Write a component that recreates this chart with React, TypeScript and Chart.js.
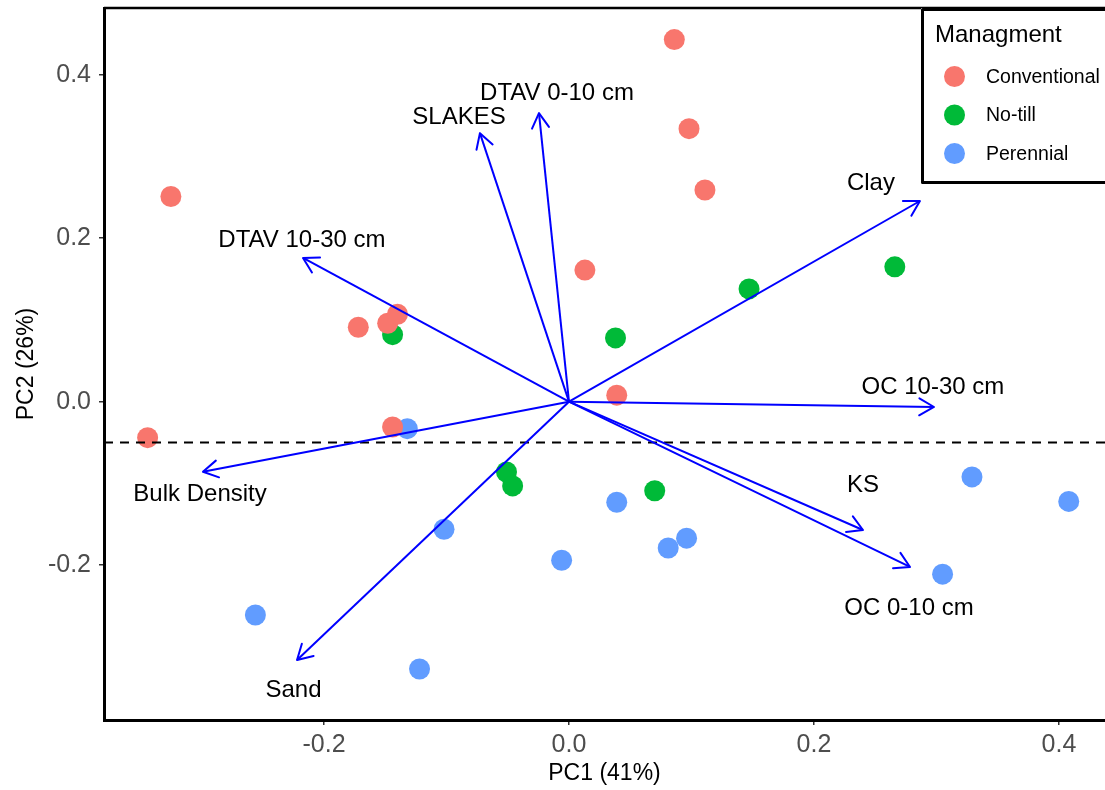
import React, { useEffect, useRef } from "react";
import { Chart, registerables } from "chart.js";

Chart.register(...registerables);

// ---------- data ----------
const groupNames = ["Conventional", "No-till", "Perennial"];
const groupColors = ["#F8766D", "#00BA38", "#619CFF"];

const conventionalPC1 = [0.086, 0.098, 0.111, 0.013, -0.325, -0.172, -0.148, -0.140, 0.039, -0.344, -0.144];
const conventionalPC2 = [0.443, 0.334, 0.259, 0.161, 0.251, 0.091, 0.096, 0.107, 0.008, -0.044, -0.031];

const noTillPC1 = [0.147, 0.266, 0.038, -0.144, -0.051, -0.046, 0.070];
const noTillPC2 = [0.138, 0.165, 0.078, 0.082, -0.086, -0.103, -0.109];

const perennialPC1 = [-0.132, -0.102, -0.006, 0.039, 0.081, 0.096, 0.305, 0.329, 0.408, -0.256, -0.122];
const perennialPC2 = [-0.033, -0.156, -0.194, -0.123, -0.179, -0.167, -0.211, -0.092, -0.122, -0.261, -0.327];

const loadingNames = ["SLAKES", "DTAV 0-10 cm", "DTAV 10-30 cm", "Clay", "OC 10-30 cm", "KS", "OC 0-10 cm", "Bulk Density", "Sand"];
const loadingPC1 = [-0.0727, -0.0245, -0.2171, 0.2865, 0.298, 0.24, 0.2784, -0.2988, -0.222];
const loadingPC2 = [0.3285, 0.353, 0.1758, 0.2455, -0.0065, -0.157, -0.2022, -0.0857, -0.316];
const labelPC1 = [-0.0898, -0.0098, -0.218, 0.2465, 0.2971, 0.24, 0.2776, -0.3012, -0.2249];
const labelPC2 = [0.348, 0.3777, 0.1978, 0.2675, 0.018, -0.102, -0.2524, -0.1129, -0.3527];

const xTicks = [-0.2, 0, 0.2, 0.4];
const yTicks = [-0.2, 0, 0.2, 0.4];
const xRange = [-0.3796, 0.4376];
const yRange = [-0.3894, 0.4816];
const refLineY = -0.05;

const xTitle = "PC1 (41%)";
const yTitle = "PC2 (26%)";
const legendTitle = "Managment";

// ---------- styles ----------
const FONT = "'Liberation Sans', Arial, Helvetica, sans-serif";
const ARROW_COLOR = "#0000FF";

const biplotPlugin = {
  id: "biplotDecor",
  afterDatasetsDraw(chart: any) {
    const { ctx, chartArea: ca, scales } = chart;
    const xs = scales.x;
    const ys = scales.y;
    ctx.save();

    // arrow heads
    ctx.strokeStyle = ARROW_COLOR;
    ctx.lineWidth = 2;
    ctx.lineCap = "round";
    ctx.lineJoin = "round";
    const x0 = xs.getPixelForValue(0);
    const y0 = ys.getPixelForValue(0);
    for (let i = 0; i < loadingNames.length; i++) {
      const x1 = xs.getPixelForValue(loadingPC1[i]);
      const y1 = ys.getPixelForValue(loadingPC2[i]);
      const ang = Math.atan2(y1 - y0, x1 - x0);
      const len = 17;
      const spread = Math.PI / 6;
      ctx.beginPath();
      ctx.moveTo(x1 + len * Math.cos(ang + Math.PI - spread), y1 + len * Math.sin(ang + Math.PI - spread));
      ctx.lineTo(x1, y1);
      ctx.lineTo(x1 + len * Math.cos(ang + Math.PI + spread), y1 + len * Math.sin(ang + Math.PI + spread));
      ctx.stroke();
    }

    // loading labels
    ctx.fillStyle = "#000";
    ctx.font = `24px ${FONT}`;
    ctx.textAlign = "center";
    ctx.textBaseline = "middle";
    for (let i = 0; i < loadingNames.length; i++) {
      ctx.fillText(loadingNames[i], xs.getPixelForValue(labelPC1[i]), ys.getPixelForValue(labelPC2[i]));
    }

    // top border of the panel
    ctx.strokeStyle = "#000";
    ctx.lineWidth = 2.5;
    ctx.lineCap = "butt";
    ctx.beginPath();
    ctx.moveTo(ca.left, ca.top);
    ctx.lineTo(ca.right + 5, ca.top);
    ctx.stroke();

    // legend
    const boxLeft = ca.right - 184;
    const boxTop = ca.top;
    const boxH = 176;
    ctx.fillStyle = "#fff";
    ctx.fillRect(boxLeft, boxTop, 260, boxH);
    ctx.strokeStyle = "#000";
    ctx.lineWidth = 3;
    ctx.strokeRect(boxLeft + 1.5, boxTop + 1.5, 260, boxH - 3);

    ctx.fillStyle = "#000";
    ctx.textAlign = "left";
    ctx.textBaseline = "alphabetic";
    ctx.font = `24px ${FONT}`;
    ctx.fillText(legendTitle, boxLeft + 14, boxTop + 34);

    ctx.font = `19.5px ${FONT}`;
    ctx.textBaseline = "middle";
    for (let i = 0; i < groupNames.length; i++) {
      const cy = boxTop + 68.5 + i * 38.5;
      ctx.fillStyle = groupColors[i];
      ctx.beginPath();
      ctx.arc(boxLeft + 33.5, cy, 10.5, 0, Math.PI * 2);
      ctx.fill();
      ctx.fillStyle = "#000";
      ctx.fillText(groupNames[i], boxLeft + 65, cy + 1);
    }
    ctx.restore();
  },
};

const zeroPad = (s: any) => {
  s.paddingTop = 0;
  s.paddingBottom = 0;
  s.paddingLeft = 0;
  s.paddingRight = 0;
};

export default function App() {
  const canvasRef = useRef<HTMLCanvasElement | null>(null);

  useEffect(() => {
    if (!canvasRef.current) return;

    const toPts = (xa: number[], ya: number[]) => xa.map((x, i) => ({ x, y: ya[i] }));
    const groupsX = [conventionalPC1, noTillPC1, perennialPC1];
    const groupsY = [conventionalPC2, noTillPC2, perennialPC2];

    const pointSets = groupNames.map((name, g) => ({
      label: name,
      data: toPts(groupsX[g], groupsY[g]),
      backgroundColor: groupColors[g],
      borderWidth: 0,
      pointRadius: 10.5,
      pointHoverRadius: 10.5,
      pointBorderWidth: 0,
      showLine: false,
      order: 3,
    }));

    const refLine = {
      label: "ref",
      data: [
        { x: xRange[0], y: refLineY },
        { x: xRange[1], y: refLineY },
      ],
      showLine: true,
      borderColor: "#000",
      borderWidth: 2,
      borderDash: [9, 7],
      pointRadius: 0,
      order: 2,
    };

    const arrowSets = loadingNames.map((name, i) => ({
      label: name,
      data: [
        { x: 0, y: 0 },
        { x: loadingPC1[i], y: loadingPC2[i] },
      ],
      showLine: true,
      borderColor: ARROW_COLOR,
      borderWidth: 2,
      pointRadius: 0,
      order: 1,
    }));

    const tickFont = { family: FONT, size: 25 };
    const titleFont = { family: FONT, size: 23 };

    const chart = new Chart(canvasRef.current, {
      type: "scatter",
      data: { datasets: [...pointSets, refLine, ...arrowSets] as any },
      options: {
        animation: false,
        responsive: false,
        devicePixelRatio: 1,
        events: [],
        layout: { autoPadding: false, padding: { top: 8, left: 0, right: 0, bottom: 0 } },
        plugins: {
          legend: { display: false },
          tooltip: { enabled: false },
          title: { display: false },
        },
        scales: {
          x: {
            type: "linear",
            min: xRange[0],
            max: xRange[1],
            afterBuildTicks: (s: any) => {
              s.ticks = xTicks.map((v) => ({ value: v }));
            },
            afterFit: (s: any) => {
              s.height = 70;
              zeroPad(s);
            },
            grid: {
              display: true,
              drawOnChartArea: false,
              drawTicks: true,
              tickLength: 5,
              color: "#333",
              lineWidth: 1.5,
            },
            border: { display: true, color: "#000", width: 3 },
            ticks: {
              autoSkip: false,
              maxRotation: 0,
              padding: 5,
              color: "#4D4D4D",
              font: tickFont,
              callback: (v: any) => Number(v).toFixed(1),
            },
            title: {
              display: true,
              text: xTitle,
              color: "#000",
              font: titleFont,
              padding: { top: 0, bottom: 3 },
            },
          },
          y: {
            type: "linear",
            min: yRange[0],
            max: yRange[1],
            afterBuildTicks: (s: any) => {
              s.ticks = yTicks.map((v) => ({ value: v }));
            },
            afterFit: (s: any) => {
              s.width = 104;
              zeroPad(s);
            },
            grid: {
              display: true,
              drawOnChartArea: false,
              drawTicks: true,
              tickLength: 5,
              color: "#333",
              lineWidth: 1.5,
            },
            border: { display: true, color: "#000", width: 3 },
            ticks: {
              autoSkip: false,
              padding: 8,
              color: "#4D4D4D",
              font: tickFont,
              callback: (v: any) => Number(v).toFixed(1),
            },
            title: {
              display: true,
              text: yTitle,
              color: "#000",
              font: titleFont,
              padding: { top: 13, bottom: 0 },
            },
          },
        },
      } as any,
      plugins: [biplotPlugin],
    });

    return () => chart.destroy();
  }, []);

  return (
    <div style={{ position: "fixed", left: 0, top: 0, width: 1105, height: 790, background: "#fff", overflow: "hidden" }}>
      <canvas ref={canvasRef} width={1105} height={790} style={{ display: "block", width: 1105, height: 790 }} />
    </div>
  );
}
